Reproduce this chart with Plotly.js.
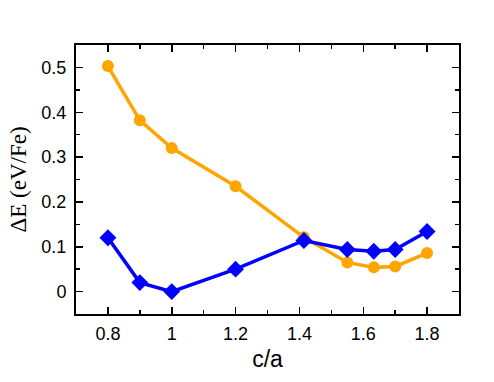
<!DOCTYPE html>
<html>
<head>
<meta charset="utf-8">
<script src="https://cdn.plot.ly/plotly-3.0.1.min.js"></script>
<style>
  body { margin: 0; background: #fff; }
  #graph { width: 494px; height: 382px; }
</style>
</head>
<body>
<div id="graph"></div>
<script>
// c/a ratios and energies (eV/Fe)
var ca = [0.8, 0.9, 1.0, 1.2, 1.414, 1.55, 1.633, 1.7, 1.8];
var dE_orange = [0.503, 0.382, 0.320, 0.235, 0.121, 0.065, 0.054, 0.056, 0.086];
var dE_blue = [0.120, 0.020, 0.000, 0.050, 0.114, 0.094, 0.090, 0.094, 0.134];

var xticks = [0.8, 1, 1.2, 1.4, 1.6, 1.8];
var xticklabels = ['0.8', '1', '1.2', '1.4', '1.6', '1.8'];
var yticks = [0, 0.1, 0.2, 0.3, 0.4, 0.5];
var yticklabels = ['0', '0.1', '0.2', '0.3', '0.4', '0.5'];

var trace_orange = {
  x: ca, y: dE_orange,
  mode: 'lines+markers',
  line: {color: '#ffa500', width: 3.5},
  marker: {symbol: 'circle', size: 12, color: '#ffa500'}
};
var trace_blue = {
  x: ca, y: dE_blue,
  mode: 'lines+markers',
  line: {color: '#0000ff', width: 3.5},
  marker: {symbol: 'diamond', size: 13, color: '#0000ff'}
};

var tick_font = {family: 'Liberation Sans, Arial, sans-serif', size: 18, color: '#000'};

var layout = {
  width: 494,
  height: 382,
  showlegend: false,
  margin: {l: 76, r: 35, t: 45, b: 68},
  paper_bgcolor: '#fff',
  plot_bgcolor: '#fff',
  xaxis: {
    range: [0.7, 1.9],
    tickvals: xticks,
    ticktext: xticklabels,
    ticks: 'inside',
    ticklen: 7,
    tickwidth: 1.5,
    tickcolor: '#000',
    ticklabelstandoff: 2,
    minor: {dtick: 0.1, ticks: 'inside', ticklen: 4, tickwidth: 1.5, tickcolor: '#000'},
    showline: true, mirror: 'allticks', linecolor: '#000', linewidth: 2,
    showgrid: false, zeroline: false,
    tickfont: tick_font,
    title: {text: 'c/a', font: {family: 'Liberation Sans, Arial, sans-serif', size: 23, color: '#000'}, standoff: 8}
  },
  yaxis: {
    range: [-0.05, 0.55],
    tickvals: yticks,
    ticktext: yticklabels,
    ticks: 'inside',
    ticklen: 7,
    tickwidth: 1.5,
    tickcolor: '#000',
    ticklabelstandoff: 4,
    minor: {dtick: 0.05, ticks: 'inside', ticklen: 4, tickwidth: 1.5, tickcolor: '#000'},
    showline: true, mirror: 'allticks', linecolor: '#000', linewidth: 2,
    showgrid: false, zeroline: false,
    tickfont: tick_font,
    title: {text: 'ΔE (eV/Fe)', font: {family: 'Liberation Serif, Times New Roman, serif', size: 23, color: '#000'}, standoff: 8}
  }
};

Plotly.newPlot('graph', [trace_orange, trace_blue], layout, {displayModeBar: false, staticPlot: true});
</script>
</body>
</html>
